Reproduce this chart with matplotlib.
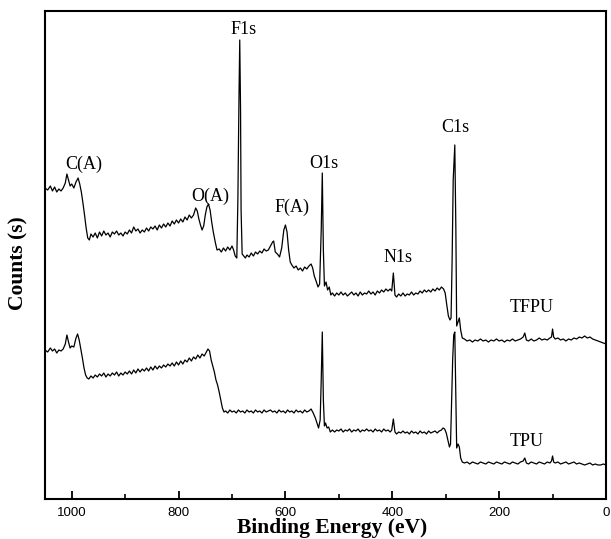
import matplotlib
matplotlib.use("Agg")
import matplotlib.pyplot as plt
from matplotlib.ticker import MultipleLocator

# ---- data: (binding energy eV, counts in arbitrary units) ----
tfpu_points = [
    (1050, 311), (1045, 309), (1040, 313), (1036, 308), (1032, 312), (1028, 307), (1024, 310),
    (1020, 308), (1016, 311), (1012, 316), (1009, 325), (1006, 319), (1003, 313), (1000, 315),
    (996, 311), (992, 317), (988, 321), (985, 315), (982, 307), (979, 296), (976, 284), (973, 271),
    (970, 261), (967, 259), (964, 265), (960, 262), (956, 266), (952, 261), (948, 267), (944, 263),
    (940, 268), (936, 264), (932, 266), (928, 262), (924, 267), (920, 265), (916, 268), (912, 264),
    (908, 266), (904, 263), (900, 267), (896, 265), (892, 269), (888, 266), (884, 272), (880, 268),
    (876, 270), (872, 266), (868, 269), (864, 267), (860, 271), (856, 268), (852, 272), (848, 270),
    (844, 273), (840, 269), (836, 274), (832, 271), (828, 275), (824, 272), (820, 276), (816, 273),
    (812, 278), (808, 275), (804, 279), (800, 276), (796, 280), (792, 277), (788, 282), (784, 279),
    (780, 284), (776, 281), (772, 284), (768, 291), (765, 288), (762, 280), (759, 274), (756, 269),
    (753, 273), (750, 284), (747, 292), (744, 295), (741, 289), (738, 277), (735, 267), (731, 256),
    (728, 249), (724, 250), (720, 247), (716, 251), (712, 248), (708, 252), (704, 249), (700, 253),
    (697, 249), (694, 243), (691, 241), (689, 299), (687, 399), (685.5, 459), (684, 389), (683, 289),
    (681, 245), (678, 243), (675, 241), (672, 244), (668, 242), (664, 246), (660, 243), (656, 247),
    (652, 245), (648, 248), (644, 246), (640, 250), (636, 248), (632, 249), (628, 253), (624, 257),
    (622, 258), (619, 247), (615, 245), (611, 242), (607, 251), (603, 269), (600, 274), (597, 267),
    (594, 249), (591, 237), (588, 234), (584, 231), (580, 233), (576, 229), (572, 231), (568, 228),
    (564, 232), (560, 230), (556, 233), (552, 235), (549, 231), (546, 223), (542, 217), (539, 212),
    (536, 215), (533, 269), (531, 326), (529, 249), (527, 213), (524, 217), (521, 209), (518, 212),
    (515, 204), (512, 206), (508, 203), (504, 206), (500, 204), (496, 207), (492, 204), (488, 206),
    (484, 203), (480, 205), (476, 207), (472, 204), (468, 206), (464, 203), (460, 207), (456, 204),
    (452, 206), (448, 205), (444, 208), (440, 205), (436, 207), (432, 204), (428, 208), (424, 206),
    (420, 209), (416, 207), (412, 210), (408, 208), (404, 210), (401, 208), (398, 226), (395, 204),
    (392, 202), (388, 205), (384, 203), (380, 206), (376, 203), (372, 205), (368, 204), (364, 207),
    (360, 204), (356, 206), (352, 205), (348, 208), (344, 206), (340, 209), (336, 207), (332, 209),
    (328, 207), (324, 210), (320, 208), (316, 211), (312, 209), (308, 212), (304, 210), (301, 206),
    (298, 194), (295, 183), (292, 179), (290, 181), (288, 239), (286, 319), (283, 354), (281, 269),
    (279.5, 173), (277, 177), (274.5, 181), (272, 169), (269, 161), (265, 160), (260, 158),
    (255, 159), (250, 157), (245, 159), (240, 158), (235, 160), (230, 158), (225, 159), (220, 157),
    (215, 159), (210, 158), (205, 160), (200, 158), (195, 159), (190, 157), (185, 159), (180, 158),
    (175, 160), (170, 158), (165, 159), (160, 160), (155, 162), (152, 166), (149, 159), (145, 158),
    (140, 160), (135, 158), (130, 159), (125, 161), (120, 159), (115, 160), (110, 159), (105, 161),
    (102, 162), (100, 170), (98, 162), (95, 160), (90, 161), (85, 159), (80, 160), (75, 158),
    (70, 160), (65, 159), (60, 161), (55, 160), (50, 162), (45, 161), (40, 163), (35, 161),
    (30, 162), (25, 160), (20, 159), (15, 158), (10, 157), (5, 156), (0, 155),
]

tpu_points = [
    (1050, 149), (1045, 147), (1040, 151), (1036, 148), (1032, 150), (1028, 146), (1024, 149),
    (1020, 148), (1016, 150), (1012, 155), (1009, 164), (1006, 157), (1003, 151), (1000, 153),
    (996, 152), (992, 161), (989, 165), (986, 159), (983, 150), (980, 141), (977, 131), (974, 124),
    (971, 121), (968, 120), (964, 123), (960, 121), (956, 124), (952, 122), (948, 125), (944, 123),
    (940, 126), (936, 122), (932, 125), (928, 123), (924, 126), (920, 124), (916, 127), (912, 123),
    (908, 126), (904, 124), (900, 127), (896, 125), (892, 128), (888, 125), (884, 129), (880, 126),
    (876, 130), (872, 127), (868, 130), (864, 128), (860, 131), (856, 128), (852, 132), (848, 129),
    (844, 133), (840, 130), (836, 133), (832, 131), (828, 134), (824, 132), (820, 135), (816, 133),
    (812, 136), (808, 133), (804, 137), (800, 134), (796, 138), (792, 135), (788, 139), (784, 137),
    (780, 141), (776, 138), (772, 142), (768, 140), (764, 144), (760, 141), (756, 145), (752, 143),
    (748, 147), (745, 150), (742, 148), (739, 139), (736, 133), (733, 127), (730, 119), (727, 114),
    (724, 107), (721, 99), (718, 91), (715, 87), (712, 88), (708, 86), (704, 89), (700, 87),
    (696, 88), (692, 86), (688, 89), (684, 87), (680, 88), (676, 86), (672, 89), (668, 87),
    (664, 88), (660, 86), (656, 89), (652, 87), (648, 88), (644, 86), (640, 89), (636, 87),
    (632, 88), (628, 89), (624, 87), (620, 88), (616, 86), (612, 89), (608, 87), (604, 88),
    (600, 86), (596, 89), (592, 87), (588, 88), (584, 86), (580, 89), (576, 87), (572, 88),
    (568, 86), (564, 89), (560, 87), (556, 88), (552, 90), (548, 86), (544, 81), (541, 76),
    (538, 71), (535, 79), (533, 119), (531, 167), (529, 99), (527, 73), (525, 76), (522, 71),
    (519, 72), (516, 67), (512, 69), (508, 67), (504, 69), (500, 68), (496, 70), (492, 67),
    (488, 69), (484, 68), (480, 70), (476, 67), (472, 69), (468, 68), (464, 70), (460, 67),
    (456, 69), (452, 68), (448, 70), (444, 68), (440, 69), (436, 67), (432, 70), (428, 68),
    (424, 69), (420, 67), (416, 70), (412, 68), (408, 69), (404, 67), (401, 69), (398, 80),
    (395, 67), (392, 65), (388, 67), (384, 66), (380, 68), (376, 66), (372, 67), (368, 65),
    (364, 68), (360, 66), (356, 67), (352, 65), (348, 68), (344, 66), (340, 67), (336, 65),
    (332, 68), (328, 66), (324, 67), (320, 68), (316, 66), (312, 68), (308, 69), (305, 71),
    (302, 70), (299, 66), (296, 59), (293, 52), (291, 55), (289, 99), (287, 139), (285, 164),
    (283, 167), (281, 99), (279.5, 51), (277, 55), (274.5, 52), (272, 41), (269, 37), (265, 36),
    (260, 37), (255, 35), (250, 37), (245, 36), (240, 35), (235, 37), (230, 36), (225, 35),
    (220, 37), (215, 36), (210, 35), (205, 37), (200, 36), (195, 35), (190, 37), (185, 36),
    (180, 35), (175, 37), (170, 36), (165, 35), (160, 37), (155, 38), (152, 41), (149, 36),
    (145, 35), (140, 37), (135, 36), (130, 35), (125, 37), (120, 36), (115, 35), (110, 37),
    (105, 36), (102, 38), (100, 43), (98, 37), (95, 36), (90, 37), (85, 35), (80, 36),
    (75, 37), (70, 35), (65, 36), (60, 37), (55, 35), (50, 36), (45, 35), (40, 34), (35, 35),
    (30, 36), (25, 34), (20, 35), (15, 34), (10, 34), (5, 35), (0, 34),
]

peak_labels = ["C(A)", "O(A)", "F1s", "F(A)", "O1s", "N1s", "C1s", "TFPU", "TPU"]
label_energy = [978, 740, 678, 587, 528, 389, 282, 140, 148]
label_counts = [335, 303, 470, 292, 336, 242, 371, 192, 57]

tfpu_energy = [p[0] for p in tfpu_points]
tfpu_counts = [p[1] for p in tfpu_points]
tpu_energy = [p[0] for p in tpu_points]
tpu_counts = [p[1] for p in tpu_points]

# ---- figure ----
fig = plt.figure(figsize=(6.11, 5.39), dpi=100)
ax = fig.add_axes([45 / 611, 40 / 539, 561 / 611, 488 / 539])

ax.plot(tfpu_energy, tfpu_counts, color="black", lw=0.9)
ax.plot(tpu_energy, tpu_counts, color="black", lw=0.9)

for t, e, c in zip(peak_labels, label_energy, label_counts):
    ax.text(e, c, t, ha="center", va="center", fontsize=13,
            family="Liberation Serif", color="black")

ax.set_xlim(1050, 0)
ax.set_ylim(0, 488)
ax.xaxis.set_major_locator(MultipleLocator(200))
ax.xaxis.set_minor_locator(MultipleLocator(100))
ax.tick_params(axis="x", which="major", direction="in", length=6, width=1.3,
               labelsize=9.5, pad=6, top=False)
ax.tick_params(axis="x", which="minor", direction="in", length=3.5, width=1.2, top=False)
ax.set_yticks([])
for lbl in ax.get_xticklabels():
    lbl.set_family("Liberation Sans")
for s in ax.spines.values():
    s.set_linewidth(1.5)

fig.text(332 / 611, 1 / 539, "Binding Energy (eV)", ha="center", va="bottom",
         fontsize=15.5, fontweight="bold", family="Liberation Serif")
fig.text(18 / 611, 1 - 263 / 539, "Counts (s)", ha="center", va="center", rotation=90,
         fontsize=15.5, fontweight="bold", family="Liberation Serif")

fig.savefig("out.png", dpi=100)
